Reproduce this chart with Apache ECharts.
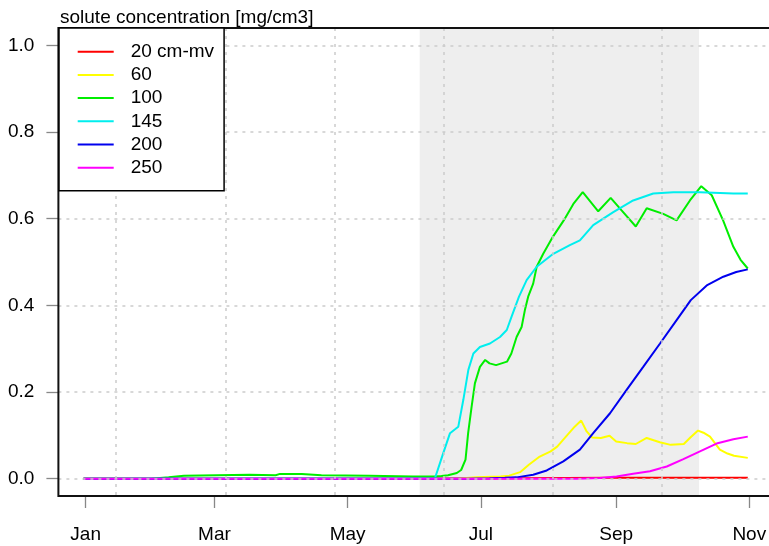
<!DOCTYPE html>
<html><head><meta charset="utf-8">
<script src="https://cdn.jsdelivr.net/npm/echarts@6/dist/echarts.min.js"></script>
<style>html,body{margin:0;padding:0;background:#fff;overflow:hidden;width:769px;height:546px}#c{width:778px;height:546px}</style>
</head><body><div id="c"></div>
<script>
// x values are day of year (0 = Jan 1), y values are solute concentration [mg/cm3]
const monthTickDays = [0, 59, 120, 181, 243, 304];
const monthTickLabels = ['Jan', 'Mar', 'May', 'Jul', 'Sep', 'Nov'];
const yTickValues = [0, 0.2, 0.4, 0.6, 0.8, 1.0];
const gridDays = [14, 64, 114, 164, 214, 264];
const shadeStartDay = 153;
const shadeEndDay = 281;
const seriesNames = ['20 cm-mv', '60', '100', '145', '200', '250'];

const depth20 = [[-1,0],[150,0],[200,0.001],[240,0.002],[303.3,0.002]];
const depth60 = [[-1,0],[170,0],[179,0.003],[190,0.005],[194,0.007],[199,0.015],[203,0.032],[208,0.051],[213,0.063],[216,0.074],[220,0.097],[224,0.12],[227,0.134],[229.5,0.109],[232,0.095],[236,0.094],[240,0.099],[243,0.086],[248,0.082],[252,0.08],[257,0.094],[263,0.084],[268,0.078],[274,0.08],[277,0.095],[280.5,0.111],[283,0.106],[286,0.097],[290.5,0.067],[294,0.058],[297,0.053],[303.3,0.048]];
const depth100 = [[-1,0],[30,0],[38,0.003],[45,0.007],[60,0.008],[75,0.009],[87,0.008],[89,0.011],[99,0.011],[108,0.008],[130,0.007],[150,0.005],[160,0.005],[163,0.006],[166,0.008],[170,0.013],[172,0.02],[174,0.044],[175.2,0.105],[176.8,0.166],[178.3,0.22],[180.6,0.258],[183,0.274],[185,0.266],[188,0.262],[193,0.27],[195,0.289],[197.4,0.327],[199.7,0.35],[201.2,0.389],[202.7,0.42],[205,0.45],[206.6,0.489],[209.6,0.519],[214,0.558],[219,0.596],[223.4,0.634],[227.7,0.661],[234.8,0.617],[240.5,0.648],[245.5,0.619],[252,0.582],[257,0.624],[264.6,0.611],[270.7,0.596],[276.8,0.642],[282,0.675],[286.8,0.654],[292,0.596],[296.7,0.535],[300,0.505],[303.3,0.485]];
const depth145 = [[-1,0],[160,0.001],[160.7,0.003],[163.8,0.059],[166.9,0.105],[169.2,0.114],[170.7,0.12],[173,0.182],[175.3,0.251],[177.6,0.289],[180.6,0.304],[185.2,0.312],[189.8,0.327],[192.9,0.343],[195.1,0.374],[198.5,0.42],[202,0.458],[206.6,0.489],[214.2,0.519],[221.8,0.539],[226.4,0.55],[232.5,0.585],[241.7,0.615],[250.8,0.642],[260,0.658],[269.2,0.661],[281.4,0.661],[296.7,0.658],[303.3,0.658]];
const depth200 = [[-1,0],[175,0],[185,0.001],[192,0.002],[197.4,0.003],[205,0.009],[211.2,0.019],[218.8,0.04],[226.4,0.067],[232.5,0.105],[240.2,0.151],[247.8,0.205],[255.4,0.258],[263.1,0.312],[270.7,0.366],[277.2,0.412],[284.5,0.446],[292.1,0.466],[298,0.477],[303.3,0.483]];
const depth250 = [[-1,0],[225,0],[235.6,0.0015],[243.2,0.005],[250.8,0.0115],[258.5,0.017],[266.2,0.028],[273.8,0.045],[281.4,0.063],[289,0.081],[296.7,0.091],[303.3,0.097]];

const seriesData = [depth20, depth60, depth100, depth145, depth200, depth250];
const seriesColors = ['#ff0000', '#ffff00', '#00ee00', '#00eeee', '#0000ee', '#ff00ff'];

const FONT = "'Liberation Sans', Arial, sans-serif";
const xMin = -12.5, xMax = 315.5;
const gridDash = { color: '#cccccc', width: 1.5, type: [3, 5] };

const chart = echarts.init(document.getElementById('c'), null, { renderer: 'canvas' });
const lineSeries = seriesNames.map((name, i) => ({
  name: name,
  type: 'line',
  xAxisIndex: 0, yAxisIndex: 0,
  data: seriesData[i],
  symbol: 'none',
  showSymbol: false,
  lineStyle: { color: seriesColors[i], width: 2 },
  itemStyle: { color: seriesColors[i] },
  z: 2,
  animation: false
}));

chart.setOption({
  animation: false,
  backgroundColor: '#ffffff',
  title: {
    text: 'solute concentration [mg/cm3]',
    left: 55, top: 3,
    textStyle: { fontFamily: FONT, fontSize: 19, fontWeight: 'normal', color: '#000' }
  },
  grid: {
    left: 58.4, top: 28, width: 716, bottom: 50,
    show: true, borderColor: '#111', borderWidth: 2, backgroundColor: 'transparent', z: 5
  },
  legend: {
    data: seriesNames,
    orient: 'vertical',
    left: 59, top: 28,
    itemWidth: 36, itemHeight: 19, itemGap: 4.2,
    padding: [14.2, 10, 13.5, 17.7],
    backgroundColor: '#ffffff',
    borderColor: '#000', borderWidth: 1.5,
    itemStyle: { opacity: 0 },
    lineStyle: { width: 2 },
    textStyle: { fontFamily: FONT, fontSize: 19, color: '#000', padding: [0, 0, 0, 12] },
    z: 6
  },
  xAxis: [
    {
      type: 'value', min: xMin, max: xMax, position: 'bottom',
      axisLine: { show: false, onZero: false },
      axisTick: { show: true, length: 12, customValues: monthTickDays, lineStyle: { color: '#888', width: 1.3 } },
      axisLabel: {
        customValues: monthTickDays, margin: 29,
        fontFamily: FONT, fontSize: 19, color: '#000',
        formatter: v => monthTickLabels[monthTickDays.indexOf(Math.round(v))] || ''
      },
      splitLine: { show: false }
    },
    {
      type: 'value', min: xMin, max: xMax, position: 'bottom', z: 3,
      axisLine: { show: false, onZero: false }, axisLabel: { show: false },
      axisTick: { show: false, customValues: gridDays },
      splitLine: { show: true, lineStyle: gridDash }
    }
  ],
  yAxis: [
    {
      type: 'value', min: -0.04, max: 1.04, position: 'left',
      axisLine: { show: false, onZero: false },
      axisTick: { show: true, length: 12, customValues: yTickValues, lineStyle: { color: '#888', width: 1.3 } },
      axisLabel: {
        customValues: yTickValues, margin: 24,
        fontFamily: FONT, fontSize: 19, color: '#000',
        formatter: v => v.toFixed(1)
      },
      splitLine: { show: false }
    },
    {
      type: 'value', min: -0.04, max: 1.04, position: 'left', z: 3,
      axisLine: { show: false, onZero: false }, axisLabel: { show: false },
      axisTick: { show: false, customValues: yTickValues },
      splitLine: { show: true, lineStyle: gridDash }
    }
  ],
  series: [
    {
      name: 'shade', type: 'line', data: [], xAxisIndex: 0, yAxisIndex: 0, z: 1,
      markArea: {
        silent: true,
        itemStyle: { color: '#eeeeee' },
        data: [[{ xAxis: shadeStartDay }, { xAxis: shadeEndDay }]]
      }
    }
  ].concat(lineSeries)
});
</script>
</body></html>
